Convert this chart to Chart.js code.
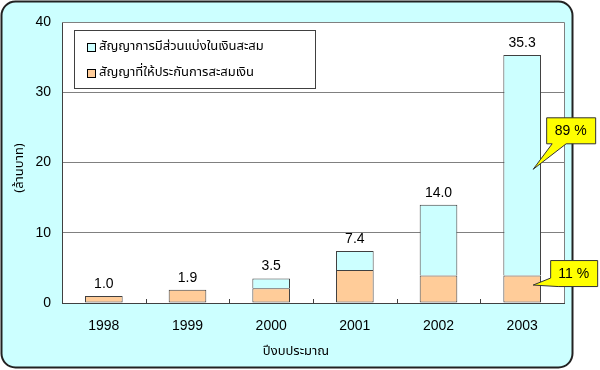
<!DOCTYPE html>
<html>
<head>
<meta charset="utf-8">
<script src="https://cdn.jsdelivr.net/npm/chart.js@4"></script>
<style>
  html, body { margin: 0; padding: 0; background: #ffffff; }
  #wrap { width: 600px; height: 370px; }
</style>
</head>
<body>
<div id="wrap"><canvas id="myChart" width="600" height="370"></canvas></div>
<script>
// data
var years = ["1998", "1999", "2000", "2001", "2002", "2003"];
var insurance = [1.0, 1.9, 2.1, 4.7, 3.9, 3.9];      // สัญญาที่ให้ประกันการสะสมเงิน (orange)
var participation = [0, 0, 1.4, 2.7, 10.1, 31.4];   // สัญญาการมีส่วนแบ่งในเงินสะสม (cyan)
var yTicks = [0, 10, 20, 30, 40];

var labelFont = '14px "Liberation Sans", Arial, sans-serif';
var thaiFont = '"Noto Sans Thai", "Noto Sans", "DejaVu Sans", sans-serif';

function roundRect(ctx, x, y, w, h, r) {
  ctx.beginPath();
  ctx.moveTo(x + r, y);
  ctx.lineTo(x + w - r, y);
  ctx.arcTo(x + w, y, x + w, y + r, r);
  ctx.lineTo(x + w, y + h - r);
  ctx.arcTo(x + w, y + h, x + w - r, y + h, r);
  ctx.lineTo(x + r, y + h);
  ctx.arcTo(x, y + h, x, y + h - r, r);
  ctx.lineTo(x, y + r);
  ctx.arcTo(x, y, x + r, y, r);
  ctx.closePath();
}

var decor = {
  id: "decor",
  beforeDraw: function (chart) {
    var ctx = chart.ctx;
    var a = chart.chartArea;
    ctx.save();
    roundRect(ctx, 1.5, 1.5, 571, 366, 14);
    ctx.fillStyle = "#CCFFFF";
    ctx.fill();
    ctx.lineWidth = 2;
    ctx.strokeStyle = "#222222";
    ctx.stroke();
    ctx.fillStyle = "#ffffff";
    ctx.fillRect(a.left, a.top, a.right - a.left, a.bottom - a.top);
    ctx.restore();
  },
  afterDatasetsDraw: function (chart) {
    var ctx = chart.ctx;
    var a = chart.chartArea;
    var xs = chart.scales.x;
    ctx.save();

    // top / right frame of plot area
    ctx.strokeStyle = "#808080";
    ctx.lineWidth = 1;
    ctx.beginPath();
    ctx.moveTo(a.left, a.top + 0.5);
    ctx.lineTo(a.right + 0.5, a.top + 0.5);
    ctx.lineTo(a.right + 0.5, a.bottom);
    ctx.stroke();

    // inward tick marks between categories
    var step = xs.getPixelForValue(1) - xs.getPixelForValue(0);
    ctx.strokeStyle = "#404040";
    ctx.beginPath();
    for (var i = 0; i < years.length - 1; i++) {
      var tx = Math.round(xs.getPixelForValue(i) + step / 2) + 0.5;
      ctx.moveTo(tx, a.bottom);
      ctx.lineTo(tx, a.bottom - 4);
    }
    ctx.stroke();

    // totals above bars
    var top = chart.getDatasetMeta(1).data;
    ctx.fillStyle = "#000000";
    ctx.font = labelFont;
    ctx.textAlign = "center";
    ctx.textBaseline = "bottom";
    for (var j = 0; j < years.length; j++) {
      var total = insurance[j] + participation[j];
      ctx.fillText(total.toFixed(1), top[j].x, top[j].y - 5);
    }

    // legend box
    var lx = a.left + 12, ly = a.top + 8;
    ctx.fillStyle = "#ffffff";
    ctx.fillRect(lx, ly, 241, 58);
    ctx.strokeStyle = "#404040";
    ctx.strokeRect(lx + 0.5, ly + 0.5, 241, 58);
    var items = [chart.data.datasets[1], chart.data.datasets[0]];
    ctx.font = "13px " + thaiFont;
    ctx.textAlign = "left";
    ctx.textBaseline = "middle";
    items.forEach(function (ds, k) {
      var iy = ly + 17 + k * 26;
      ctx.fillStyle = ds.backgroundColor;
      ctx.fillRect(lx + 13, iy - 4, 9, 9);
      ctx.strokeStyle = "#000000";
      ctx.strokeRect(lx + 13.5, iy - 3.5, 8, 8);
      ctx.fillStyle = "#000000";
      ctx.fillText(ds.label, lx + 25, iy);
    });

    // axis titles
    ctx.font = "13px " + thaiFont;
    ctx.textAlign = "center";
    ctx.fillText("ปีงบประมาณ", 296, 352);
    ctx.save();
    ctx.translate(20, 168);
    ctx.rotate(-Math.PI / 2);
    ctx.fillText("(ล้านบาท)", 0, 0);
    ctx.restore();

    // callouts on the last bar
    var n = years.length - 1;
    var sum = insurance[n] + participation[n];
    var upper = chart.getDatasetMeta(1).data[n];
    var lower = chart.getDatasetMeta(0).data[n];
    callout(ctx, upper.x + 11, (upper.y + upper.base) / 2 + 4,
      Math.round(participation[n] / sum * 100) + " %", 13, -52, 49, 26);
    callout(ctx, lower.x + 11, (lower.y + lower.base) / 2 - 4,
      Math.round(insurance[n] / sum * 100) + " %", 17, -25, 47, 26);
    ctx.restore();
  }
};

function callout(ctx, tipX, tipY, text, dx, dy, w, h) {
  var bx = tipX + dx, by = tipY + dy;
  ctx.save();
  ctx.fillStyle = "#FFFF00";
  ctx.strokeStyle = "#333333";
  ctx.lineWidth = 1;
  ctx.beginPath();
  ctx.moveTo(bx + 0.5, by + 0.5);
  ctx.lineTo(bx + w + 0.5, by + 0.5);
  ctx.lineTo(bx + w + 0.5, by + h + 0.5);
  if (dy < -40) {
    ctx.lineTo(bx + 20, by + h + 0.5);
    ctx.lineTo(tipX, tipY);
    ctx.lineTo(bx + 6, by + h + 0.5);
    ctx.lineTo(bx + 0.5, by + h + 0.5);
  } else {
    ctx.lineTo(bx + 8, by + h + 0.5);
    ctx.lineTo(tipX, tipY);
    ctx.lineTo(bx + 0.5, by + h - 8);
  }
  ctx.closePath();
  ctx.fill();
  ctx.stroke();
  ctx.fillStyle = "#000000";
  ctx.font = labelFont;
  ctx.textAlign = "center";
  ctx.textBaseline = "middle";
  ctx.fillText(text, bx + w / 2, by + h / 2 + 1);
  ctx.restore();
}

// no outline for empty segments
function edge(c) { return c.raw ? 1 : 0; }

var ctx = document.getElementById("myChart").getContext("2d");
var myChart = new Chart(ctx, {
  type: "bar",
  data: {
    labels: years,
    datasets: [
      {
        label: "สัญญาที่ให้ประกันการสะสมเงิน",
        data: insurance,
        backgroundColor: "#FFCC99",
        borderColor: "#404040",
        borderWidth: edge,
        borderSkipped: false,
        categoryPercentage: 1,
        barPercentage: 0.45,
      },
      {
        label: "สัญญาการมีส่วนแบ่งในเงินสะสม",
        data: participation,
        backgroundColor: "#CCFFFF",
        borderColor: "#404040",
        borderWidth: edge,
        borderSkipped: "bottom",
        categoryPercentage: 1,
        barPercentage: 0.45,
      },
    ],
  },
  options: {
    responsive: false,
    animation: false,
    layout: { padding: { top: 22, right: 36, left: 0, bottom: 0 } },
    plugins: { legend: { display: false }, tooltip: { enabled: false } },
    scales: {
      x: {
        stacked: true,
        grid: { display: false },
        border: { color: "#404040" },
        ticks: { color: "#000000", font: { family: "Liberation Sans", size: 14 }, padding: 7 },
        afterFit: function (scale) { scale.height = 67; },
      },
      y: {
        stacked: true,
        min: yTicks[0],
        max: yTicks[yTicks.length - 1],
        afterBuildTicks: function (scale) {
          scale.ticks = yTicks.map(function (v) { return { value: v }; });
        },
        grid: { color: "#808080", drawTicks: false },
        border: { color: "#404040" },
        ticks: { color: "#000000", font: { family: "Liberation Sans", size: 14 }, padding: 11 },
        afterFit: function (scale) { scale.width = 62; },
      },
    },
  },
  plugins: [decor],
});
</script>
</body>
</html>
